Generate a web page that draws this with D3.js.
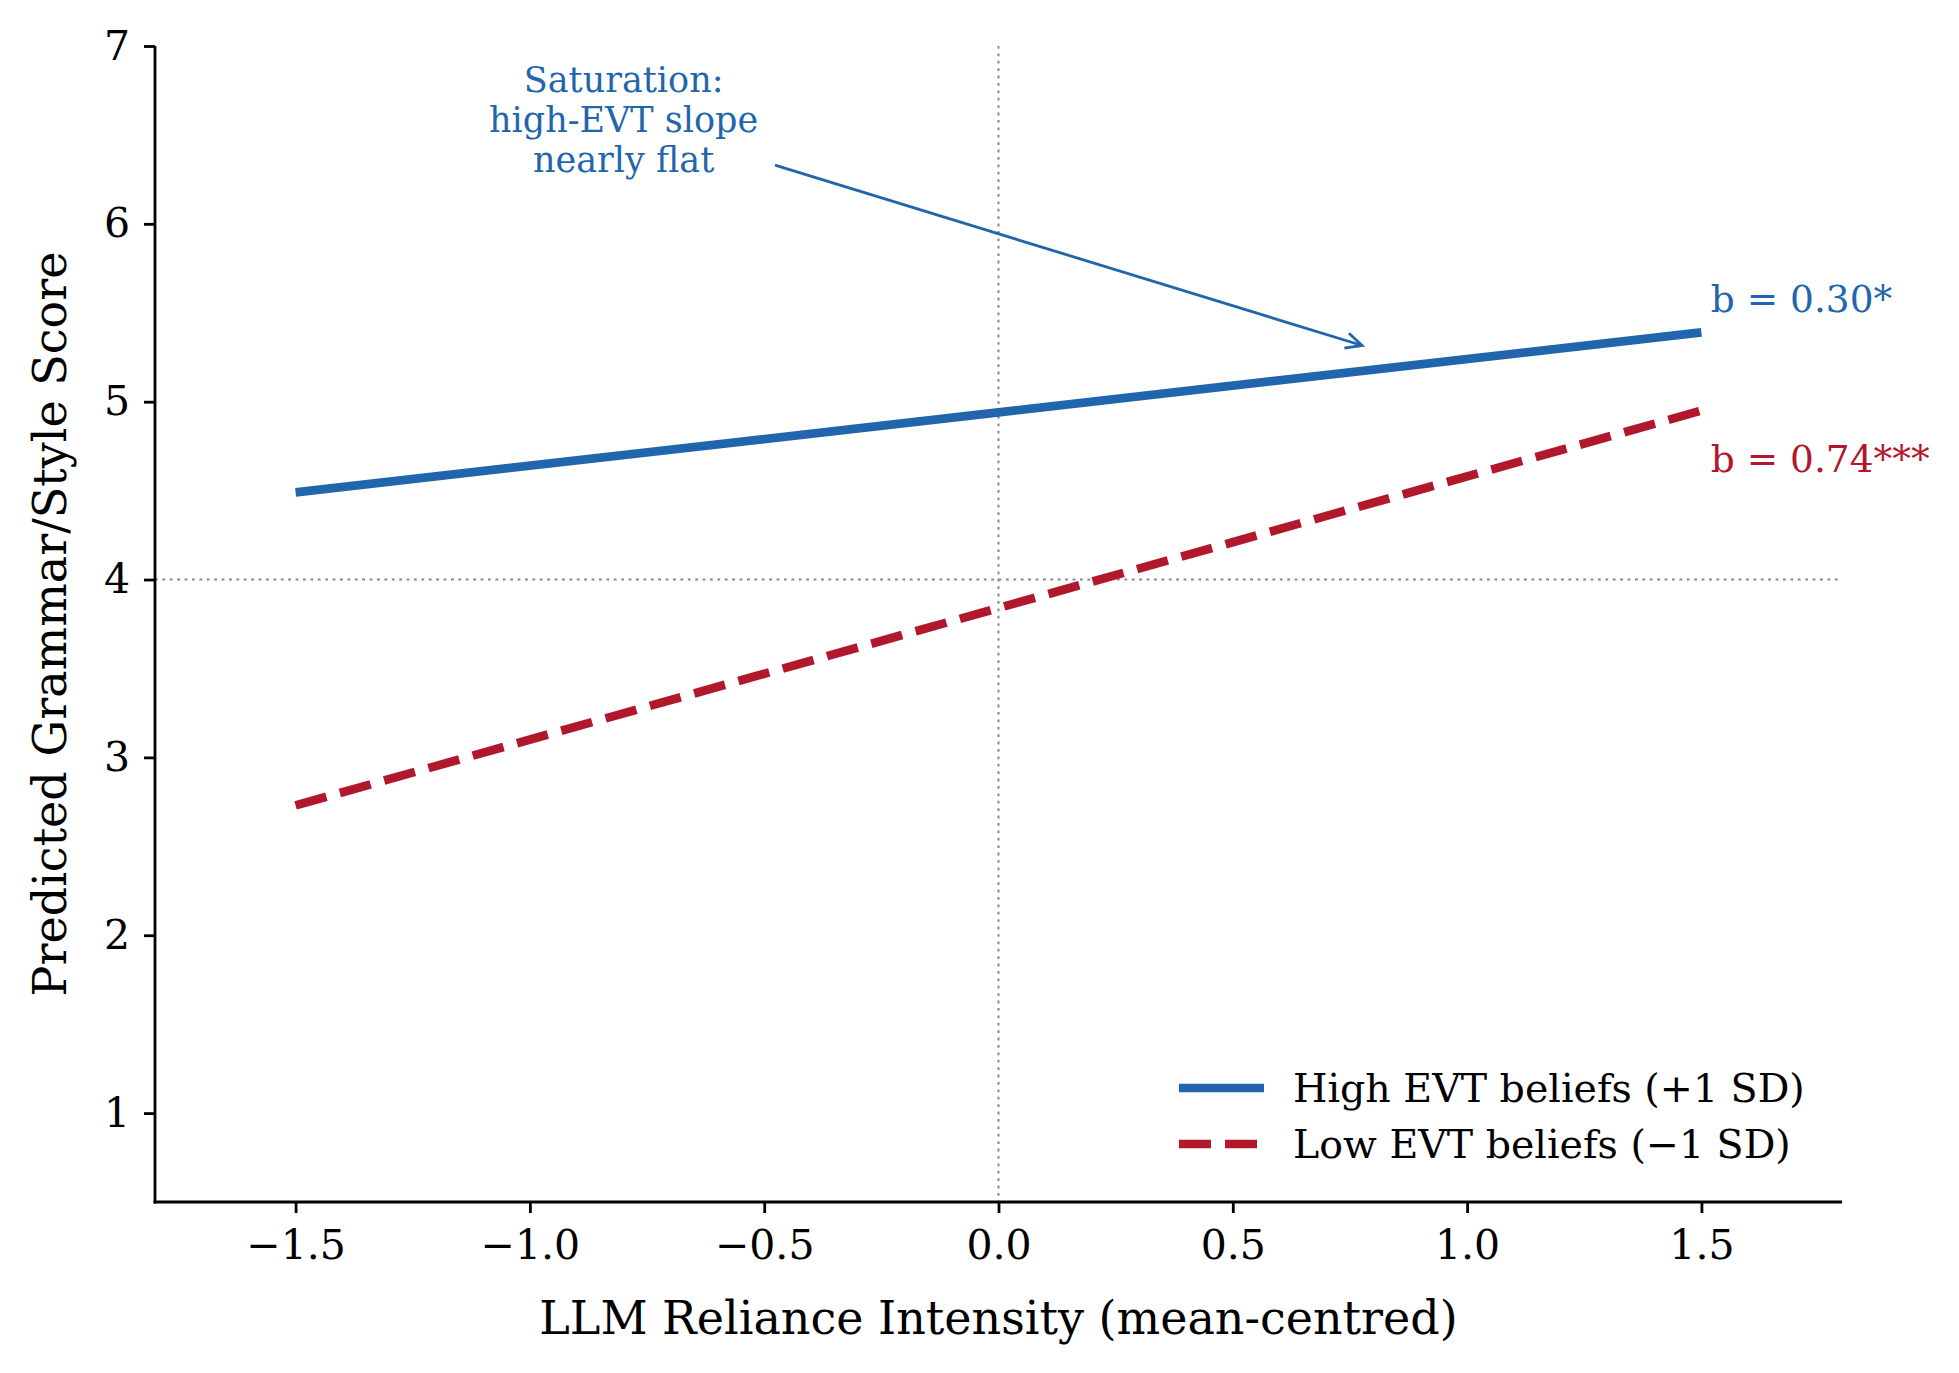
<!DOCTYPE html>
<html>
<head>
<meta charset="utf-8">
<script src="https://cdn.jsdelivr.net/npm/d3@7"></script>
<style>
  body { margin: 0; background: #fff; }
  text { font-family: "DejaVu Serif", serif; }
</style>
</head>
<body>
<svg id="chart"></svg>
<script>
// data
const relianceX = [-1.5, 0, 1.5];
const highEVT = [4.49, 4.94, 5.39];
const lowEVT = [2.73, 3.84, 4.95];
const xTicks = [-1.5, -1.0, -0.5, 0.0, 0.5, 1.0, 1.5];
const yTicks = [1, 2, 3, 4, 5, 6, 7];
const seriesNames = ["High EVT beliefs (+1 SD)", "Low EVT beliefs (\u22121 SD)"];
const slopeLabels = ["b = 0.30*", "b = 0.74***"];
const noteLines = ["Saturation:", "high-EVT slope", "nearly flat"];

const svgWidth = 1959;
const svgHeight = 1373;
const margin = { top: 46, bottom: 171, left: 155, right: 117 };
const w = svgWidth - margin.left - margin.right;
const h = svgHeight - margin.top - margin.bottom;
const blue = "#2166ac";
const red = "#b2182b";

let svg = d3.select("#chart")
    .attr("width", svgWidth)
    .attr("height", svgHeight);

let scaleX = d3.scaleLinear().domain([-1.8, 1.8]).range([0, w]);
let scaleY = d3.scaleLinear().domain([0.5, 7]).range([h, 0]);

let g = svg.append("g")
    .attr("transform", "translate(" + margin.left + "," + margin.top + ")");

// reference lines
g.append("line")
    .attr("x1", 0).attr("x2", w)
    .attr("y1", scaleY(4)).attr("y2", scaleY(4))
    .attr("stroke", "#888").attr("stroke-width", 2)
    .attr("stroke-dasharray", "2.8,4.6");
g.append("line")
    .attr("x1", scaleX(0)).attr("x2", scaleX(0))
    .attr("y1", 0).attr("y2", h)
    .attr("stroke", "#888").attr("stroke-width", 2)
    .attr("stroke-dasharray", "2.8,4.6");

// axes
let xAxis = g.append("g")
    .attr("transform", "translate(0," + h + ")")
    .call(d3.axisBottom(scaleX).tickValues(xTicks)
        .tickFormat(d => d3.format(".1f")(d).replace("-", "\u2212"))
        .tickSizeOuter(0).tickSize(11).tickPadding(17));
let yAxis = g.append("g")
    .call(d3.axisLeft(scaleY).tickValues(yTicks)
        .tickFormat(d3.format("d"))
        .tickSizeOuter(0).tickSize(11).tickPadding(14));

[xAxis, yAxis].forEach(a => {
    a.select(".domain").remove();
    a.selectAll(".tick line").attr("stroke", "#000").attr("stroke-width", 2.8);
    a.selectAll(".tick text")
        .attr("font-family", "DejaVu Serif")
        .attr("font-size", 41)
        .attr("fill", "#000");
});
// left and bottom spines only
g.append("line")
    .attr("x1", 0).attr("x2", 0).attr("y1", 0).attr("y2", h + 1.4)
    .attr("stroke", "#000").attr("stroke-width", 2.8);
g.append("line")
    .attr("x1", -1.4).attr("x2", w).attr("y1", h).attr("y2", h)
    .attr("stroke", "#000").attr("stroke-width", 2.8);

// series lines
let line = d3.line()
    .x((d, i) => scaleX(relianceX[i]))
    .y(d => scaleY(d));

g.append("path")
    .datum(highEVT)
    .attr("d", line)
    .attr("fill", "none")
    .attr("stroke", blue)
    .attr("stroke-width", 8.7);

g.append("path")
    .datum(lowEVT)
    .attr("d", line)
    .attr("fill", "none")
    .attr("stroke", red)
    .attr("stroke-width", 8.7)
    .attr("stroke-dasharray", "32,14");

// slope labels
g.append("text")
    .attr("x", scaleX(1.52)).attr("y", scaleY(5.58))
    .attr("dominant-baseline", "central")
    .attr("font-size", 37.5).attr("fill", blue)
    .text(slopeLabels[0]);
g.append("text")
    .attr("x", scaleX(1.52)).attr("y", scaleY(4.68))
    .attr("dominant-baseline", "central")
    .attr("font-size", 37.5).attr("fill", red)
    .text(slopeLabels[1]);

// annotation
let note = g.append("text")
    .attr("text-anchor", "middle")
    .attr("font-size", 35).attr("fill", blue);
noteLines.forEach((t, i) => {
    note.append("tspan")
        .attr("x", scaleX(-0.8))
        .attr("y", scaleY(6.586) + (i - 1) * 40)
        .attr("dominant-baseline", "central")
        .text(t);
});

let ax0 = scaleX(-0.477), ay0 = scaleY(6.33);
let ax1 = scaleX(0.776), ay1 = scaleY(5.316);
g.append("line")
    .attr("x1", ax0).attr("y1", ay0).attr("x2", ax1).attr("y2", ay1)
    .attr("stroke", blue).attr("stroke-width", 2.8);
let ang = Math.atan2(ay1 - ay0, ax1 - ax0);
let headLen = 18, spread = 0.45;
g.append("path")
    .attr("d", "M" + (ax1 - headLen * Math.cos(ang - spread)) + "," + (ay1 - headLen * Math.sin(ang - spread)) +
        "L" + ax1 + "," + ay1 +
        "L" + (ax1 - headLen * Math.cos(ang + spread)) + "," + (ay1 - headLen * Math.sin(ang + spread)))
    .attr("fill", "none").attr("stroke", blue).attr("stroke-width", 2.8);

// axis titles
svg.append("text")
    .attr("x", margin.left + w / 2).attr("y", 1318)
    .attr("text-anchor", "middle").attr("dominant-baseline", "central")
    .attr("font-size", 46)
    .text("LLM Reliance Intensity (mean-centred)");
svg.append("text")
    .attr("transform", "translate(50," + (margin.top + h / 2) + ") rotate(-90)")
    .attr("text-anchor", "middle").attr("dominant-baseline", "central")
    .attr("font-size", 46)
    .text("Predicted Grammar/Style Score");

// legend
let legend = svg.append("g")
    .selectAll("g")
    .data(seriesNames)
    .enter()
    .append("g")
    .each(function (d, i) {
        let lg = d3.select(this);
        let ly = 1088 + i * 56;
        lg.append("line")
            .attr("x1", 1179).attr("x2", 1264)
            .attr("y1", ly).attr("y2", ly)
            .attr("stroke", i === 0 ? blue : red)
            .attr("stroke-width", 8.7)
            .attr("stroke-dasharray", i === 0 ? null : "32,14");
        lg.append("text")
            .attr("x", 1293).attr("y", ly)
            .attr("dominant-baseline", "central")
            .attr("font-size", 39.5)
            .text(d);
    });
</script>
</body>
</html>
